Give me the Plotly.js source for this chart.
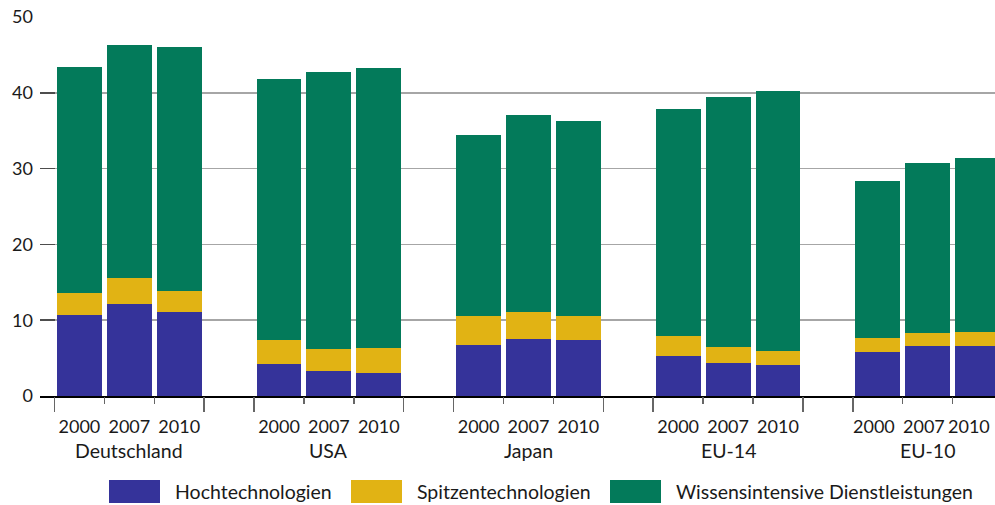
<!DOCTYPE html>
<html>
<head>
<meta charset="utf-8">
<script src="https://cdn.plot.ly/plotly-3.0.1.min.js"></script>
<style>
  html, body { margin: 0; padding: 0; background: #ffffff; }
  #chart { width: 995px; height: 505px; }
</style>
</head>
<body>
<div id="chart"></div>
<script>
// ---- Data ----
const categories = ['Deutschland', 'USA', 'Japan', 'EU-14', 'EU-10'];
const years = ['2000', '2007', '2010'];
const seriesNames = ['Hochtechnologien', 'Spitzentechnologien', 'Wissensintensive Dienstleistungen'];
const seriesColors = ['#35339a', '#e1b314', '#037a5a'];
// values per bar, ordered by country then year
const hochtechnologien = [10.65, 12.1, 11.05, 4.2, 3.3, 3.0, 6.7, 7.5, 7.35, 5.25, 4.3, 4.05, 5.75, 6.55, 6.55];
const spitzentechnologien = [2.9, 3.45, 2.75, 3.15, 2.85, 3.3, 3.8, 3.55, 3.15, 2.65, 2.1, 1.85, 1.85, 1.7, 1.95];
const wissensintensiv = [29.8, 30.7, 32.2, 34.45, 36.55, 36.95, 23.9, 26.0, 25.75, 29.95, 33.0, 34.3, 20.7, 22.45, 22.85];
const yTicks = [0, 10, 20, 30, 40, 50];

// ---- Positions (one empty slot between groups) ----
const slot = years.length + 1;
const pos = [], yearText = [];
categories.forEach((c, g) => years.forEach((y, i) => { pos.push(g * slot + i); yearText.push(y); }));
const outerTicks = [], innerTicks = [];
categories.forEach((c, g) => {
  outerTicks.push(g * slot - 0.5, g * slot + years.length - 0.5);
  for (let i = 1; i < years.length; i++) innerTicks.push(g * slot + i - 0.5);
});
const xRange = [-0.79, 18.35];

// the last group's year labels sit at the right edge; they are drawn as annotations pulled inside
const nLast = years.length;
const tickText = yearText.slice(0, -nLast).concat(years.map(() => ''));
const lastGroupLabelPx = [874, 923.5, 969];

const seriesValues = [hochtechnologien, spitzentechnologien, wissensintensiv];
const traces = seriesValues.map((vals, k) => ({
  type: 'bar', x: pos, y: vals, name: seriesNames[k],
  marker: { color: seriesColors[k], line: { width: 0 } },
  width: 0.9, showlegend: false, hoverinfo: 'skip'
}));
traces.push({ type: 'scatter', x: [xRange[0]], y: [0], xaxis: 'x2', yaxis: 'y', mode: 'markers',
  marker: { opacity: 0 }, showlegend: false, hoverinfo: 'skip' });

const FONT = 'Lato, "Open Sans", sans-serif';
const TXT = '#1a1a1a';

const plotLeft = 40, plotW = 955, plotBottom = 396, plotH = 379.3;
const px2x = p => (p - plotLeft) / plotW;
const py2y = p => (plotBottom - p) / plotH;

// ---- Annotations: group labels + legend text ----
const annotations = categories.map((c, g) => ({
  x: g * slot + (years.length - 1) / 2, xref: 'x', y: -0.1425, yref: 'paper',
  text: c, showarrow: false, xanchor: 'center', yanchor: 'middle',
  font: { family: FONT, size: 19.5, color: TXT }
}));
years.forEach((y, i) => annotations.push({ x: px2x(lastGroupLabelPx[i]), xref: 'paper', y: py2y(426), yref: 'paper',
  text: y, showarrow: false, xanchor: 'center', yanchor: 'middle',
  font: { family: FONT, size: 18, color: TXT } }));
const legendBoxes = [[109, 160], [351, 402], [610, 661]];
const shapes = [];
seriesNames.forEach((n, k) => {
  const [a, b] = legendBoxes[k];
  shapes.push({ type: 'rect', xref: 'paper', yref: 'paper', x0: px2x(a), x1: px2x(b),
    y0: py2y(480), y1: py2y(503), fillcolor: seriesColors[k], line: { width: 0 } });
  annotations.push({ x: px2x(b + 13), xref: 'paper', y: py2y(491.5), yref: 'paper',
    text: n, showarrow: false, xanchor: 'left', yanchor: 'middle',
    font: { family: FONT, size: 19.5, color: TXT } });
});

const layout = {
  width: 995, height: 505,
  margin: { l: 40, r: 0, t: 16.7, b: 109 },
  paper_bgcolor: '#ffffff', plot_bgcolor: '#ffffff',
  barmode: 'stack', bargap: 0,
  font: { family: FONT, size: 18, color: TXT },
  xaxis: {
    range: xRange, tickmode: 'array', tickvals: pos, ticktext: tickText,
    ticks: '', showgrid: false, zeroline: false,
    showline: true, linecolor: '#000000', linewidth: 1.5,
    tickfont: { family: FONT, size: 18, color: TXT }, ticklabelstandoff: 14,
    ticklabeloverflow: 'allow'
  },
  xaxis2: {
    overlaying: 'x', anchor: 'y', range: xRange, tickmode: 'array', tickvals: outerTicks,
    ticks: 'outside', ticklen: 15, tickwidth: 1.5, tickcolor: '#666666',
    minor: { tickmode: 'array', tickvals: innerTicks, ticks: 'outside', ticklen: 7, tickwidth: 1.5, tickcolor: '#666666', showgrid: false },
    showticklabels: false, showgrid: false, zeroline: false, showline: false
  },
  yaxis: {
    range: [0, 50], tickmode: 'array', tickvals: yTicks,
    ticks: 'inside', ticklen: 15, tickwidth: 1.5, tickcolor: '#4d4d4d',
    showgrid: true, gridcolor: '#a6a6a6', gridwidth: 1.5, zeroline: false, showline: false,
    tickfont: { family: FONT, size: 18, color: TXT }, ticklabelstandoff: 6
  },
  shapes: shapes,
  annotations: annotations
};

Plotly.newPlot('chart', traces, layout, { staticPlot: true, displayModeBar: false });
</script>
</body>
</html>
